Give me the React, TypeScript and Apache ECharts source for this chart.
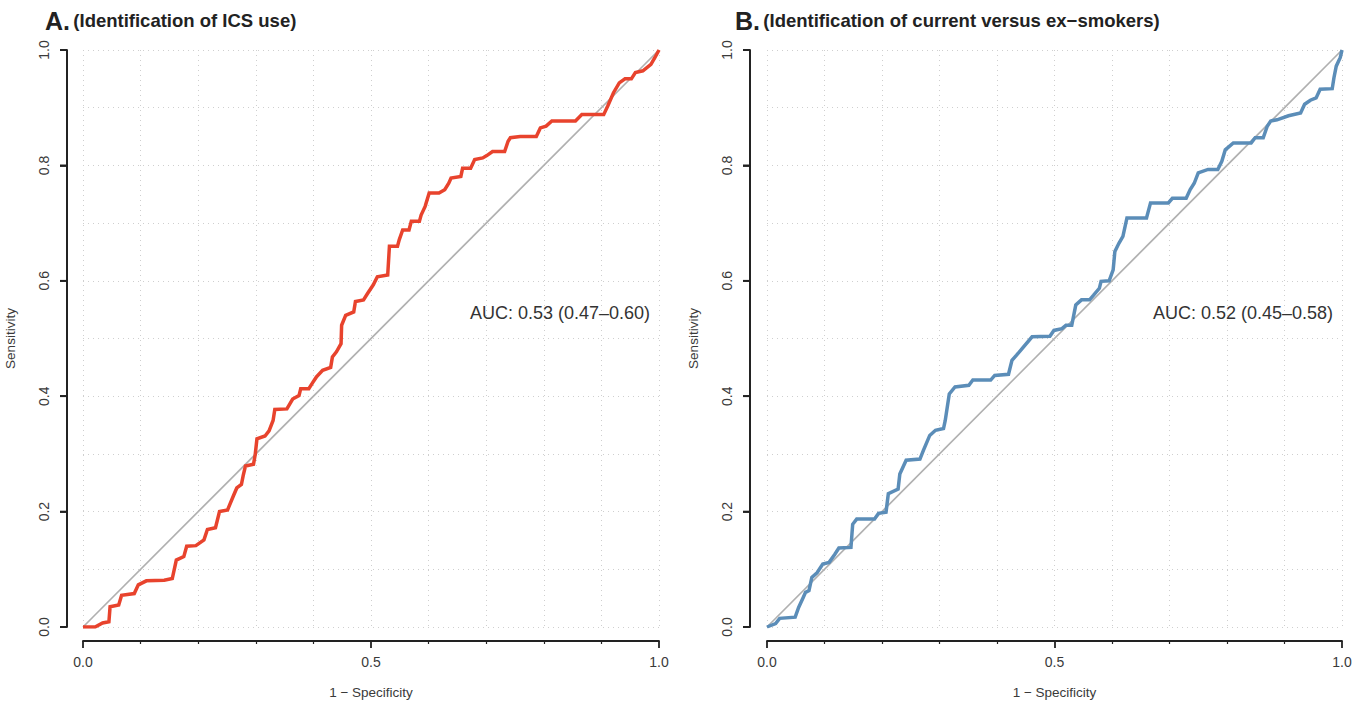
import React, { useEffect, useRef } from "react";
import * as echarts from "echarts";

// 1 - specificity, sensitivity pairs
const rocICS: number[][] = [
  [0, 0], [0.021, 0], [0.034, 0.007], [0.045, 0.009], [0.047, 0.035], [0.062, 0.038], [0.067, 0.055],
  [0.089, 0.058], [0.096, 0.073], [0.11, 0.08], [0.141, 0.081], [0.155, 0.084], [0.162, 0.116],
  [0.175, 0.122], [0.18, 0.14], [0.196, 0.141], [0.21, 0.151], [0.216, 0.169], [0.23, 0.172],
  [0.237, 0.2], [0.251, 0.203], [0.261, 0.227], [0.267, 0.241], [0.275, 0.247], [0.278, 0.262],
  [0.282, 0.279], [0.296, 0.282], [0.299, 0.299], [0.302, 0.326], [0.316, 0.331], [0.323, 0.34],
  [0.33, 0.358], [0.333, 0.377], [0.354, 0.378], [0.364, 0.395], [0.375, 0.401], [0.378, 0.413],
  [0.392, 0.413], [0.399, 0.424], [0.405, 0.433], [0.416, 0.445], [0.43, 0.45], [0.433, 0.468],
  [0.44, 0.477], [0.448, 0.491], [0.449, 0.523], [0.456, 0.54], [0.47, 0.546], [0.473, 0.564],
  [0.487, 0.567], [0.494, 0.578], [0.504, 0.593], [0.511, 0.607], [0.529, 0.61], [0.532, 0.66],
  [0.546, 0.66], [0.549, 0.671], [0.555, 0.688], [0.566, 0.688], [0.57, 0.703], [0.584, 0.703],
  [0.587, 0.714], [0.594, 0.729], [0.601, 0.752], [0.618, 0.752], [0.628, 0.758], [0.635, 0.769],
  [0.639, 0.778], [0.656, 0.781], [0.659, 0.795], [0.673, 0.795], [0.68, 0.81], [0.694, 0.813],
  [0.701, 0.817], [0.711, 0.824], [0.732, 0.824], [0.738, 0.842], [0.742, 0.848], [0.759, 0.85],
  [0.787, 0.85], [0.794, 0.865], [0.804, 0.868], [0.814, 0.877], [0.855, 0.877], [0.866, 0.888],
  [0.904, 0.888], [0.911, 0.903], [0.921, 0.926], [0.931, 0.943], [0.941, 0.95], [0.952, 0.95],
  [0.959, 0.961], [0.972, 0.964], [0.986, 0.975], [0.993, 0.987], [1, 1],
];

const rocSmokers: number[][] = [
  [0, 0], [0.015, 0.006], [0.022, 0.015], [0.049, 0.017], [0.055, 0.034], [0.063, 0.051], [0.067, 0.06],
  [0.073, 0.063], [0.078, 0.086], [0.087, 0.094], [0.097, 0.109], [0.108, 0.112], [0.118, 0.126],
  [0.125, 0.137], [0.146, 0.138], [0.149, 0.178], [0.156, 0.187], [0.187, 0.187], [0.194, 0.197],
  [0.207, 0.199], [0.211, 0.231], [0.228, 0.239], [0.231, 0.265], [0.242, 0.289], [0.266, 0.291],
  [0.272, 0.306], [0.283, 0.332], [0.293, 0.341], [0.307, 0.344], [0.31, 0.358], [0.317, 0.404],
  [0.327, 0.416], [0.351, 0.419], [0.358, 0.428], [0.389, 0.428], [0.396, 0.436], [0.42, 0.438],
  [0.426, 0.462], [0.434, 0.471], [0.444, 0.483], [0.461, 0.503], [0.492, 0.504], [0.499, 0.514],
  [0.513, 0.517], [0.52, 0.523], [0.53, 0.523], [0.537, 0.558], [0.547, 0.567], [0.561, 0.567],
  [0.568, 0.575], [0.578, 0.587], [0.581, 0.599], [0.595, 0.6], [0.602, 0.619], [0.605, 0.651],
  [0.612, 0.665], [0.619, 0.677], [0.626, 0.709], [0.66, 0.709], [0.667, 0.735], [0.698, 0.735],
  [0.705, 0.743], [0.729, 0.743], [0.736, 0.758], [0.743, 0.769], [0.75, 0.787], [0.767, 0.793],
  [0.784, 0.793], [0.791, 0.807], [0.797, 0.827], [0.811, 0.839], [0.842, 0.839], [0.849, 0.848],
  [0.863, 0.848], [0.87, 0.868], [0.876, 0.877], [0.887, 0.879], [0.907, 0.886], [0.928, 0.891],
  [0.935, 0.906], [0.945, 0.913], [0.955, 0.917], [0.962, 0.932], [0.983, 0.933], [0.986, 0.952],
  [0.99, 0.972], [0.997, 0.987], [1, 1],
];

const diagonal: number[][] = [[0, 0], [1, 1]];
const yTickValues = [0, 0.2, 0.4, 0.6, 0.8, 1.0];

const panelLetters = ["A.", "B."];
const panelTitles = ["(Identification of ICS use)", "(Identification of current versus ex\u2212smokers)"];
const aucLabels = ["AUC: 0.53 (0.47\u20130.60)", "AUC: 0.52 (0.45\u20130.58)"];
const xName = "1 \u2212 Specificity";
const yName = "Sensitivity";

const FONT = "'Liberation Sans', Arial, Helvetica, sans-serif";
const AXIS_COLOR = "#222";
const LABEL_COLOR = "#3a3a3a";
const GRID_COLOR = "#cfcfcf";

const gridsLayout = [
  { left: 83, top: 50, width: 576, height: 577 },
  { left: 767, top: 50, width: 575, height: 577 },
];
const yOffsets = [16, 17];
const Y_TICK_LEN = 7;

function xAxisFor(i: number) {
  return {
    gridIndex: i,
    type: "value",
    min: 0,
    max: 1,
    interval: 0.5,
    offset: 14,
    name: xName,
    nameLocation: "middle",
    nameGap: 44,
    nameTextStyle: { fontSize: 13.5, color: LABEL_COLOR, fontFamily: FONT },
    axisLine: { show: true, onZero: false, lineStyle: { color: AXIS_COLOR, width: 1.8 } },
    axisTick: { show: true, length: 7, lineStyle: { color: AXIS_COLOR, width: 1.8 } },
    minorTick: { show: true, splitNumber: 5, length: 3, lineStyle: { color: AXIS_COLOR, width: 1.2 } },
    axisLabel: {
      color: LABEL_COLOR,
      fontSize: 14,
      fontFamily: FONT,
      margin: 14,
      formatter: (v: number) => v.toFixed(1),
    },
    splitLine: { show: true, lineStyle: { type: [1, 4], color: GRID_COLOR, width: 1 } },
    minorSplitLine: { show: true, lineStyle: { type: [1, 4], color: GRID_COLOR, width: 1 } },
  };
}

function yAxisFor(i: number) {
  return {
    gridIndex: i,
    type: "value",
    position: "left",
    min: 0,
    max: 1,
    interval: 0.2,
    offset: yOffsets[i],
    name: yName,
    nameLocation: "middle",
    nameGap: 50,
    nameTextStyle: { fontSize: 13.5, color: LABEL_COLOR, fontFamily: FONT },
    axisLine: { show: true, onZero: false, lineStyle: { color: AXIS_COLOR, width: 1.8 } },
    axisTick: { show: true, length: Y_TICK_LEN, lineStyle: { color: AXIS_COLOR, width: 1.8 } },
    minorTick: { show: false, splitNumber: 2 },
    axisLabel: {
      color: LABEL_COLOR,
      fontSize: 14,
      fontFamily: FONT,
      margin: 16,
      rotate: 90,
      formatter: (v: number) => v.toFixed(1),
    },
    splitLine: { show: true, lineStyle: { type: [1, 4], color: GRID_COLOR, width: 1 } },
    minorSplitLine: { show: true, lineStyle: { type: [1, 4], color: GRID_COLOR, width: 1 } },
  };
}

export default function App() {
  const ref = useRef<HTMLDivElement>(null);

  useEffect(() => {
    document.body.style.margin = "0";
    document.body.style.overflow = "hidden";
    if (!ref.current) return;
    const chart = echarts.init(ref.current, null, { renderer: "svg" });

    const rocSeries = (idx: number, data: number[][], color: string) => ({
      type: "line",
      xAxisIndex: idx,
      yAxisIndex: idx,
      data,
      showSymbol: false,
      symbol: "none",
      silent: true,
      z: 3,
      lineStyle: { color, width: 3.5, join: "miter" },
    });
    const diagSeries = (idx: number) => ({
      type: "line",
      xAxisIndex: idx,
      yAxisIndex: idx,
      data: diagonal,
      showSymbol: false,
      symbol: "none",
      silent: true,
      z: 2,
      lineStyle: { color: "#b0b0b0", width: 1.7 },
    });

    const titleX = [45, 735];
    const aucRight = [650, 1333];

    const baseGraphics: any[] = [
      ...panelLetters.map((letter, i) => ({
        type: "text",
        left: titleX[i],
        top: 8,
        style: {
          text: `{a|${letter}} {b|${panelTitles[i]}}`,
          rich: {
            a: { fontSize: 25, fontWeight: "bold", fill: "#222", fontFamily: FONT },
            b: { fontSize: 18.5, fontWeight: "bold", fill: "#222", fontFamily: FONT },
          },
        },
      })),
      ...aucLabels.map((t, i) => ({
        type: "text",
        x: aucRight[i],
        y: 313,
        style: {
          text: t,
          fontSize: 18,
          fill: "#333",
          fontFamily: FONT,
          textAlign: "right",
          textVerticalAlign: "middle",
        },
      })),
    ];

    chart.setOption({
      animation: false,
      backgroundColor: "#ffffff",
      grid: gridsLayout.map((g) => ({ ...g, containLabel: false })),
      xAxis: [xAxisFor(0), xAxisFor(1)],
      yAxis: [yAxisFor(0), yAxisFor(1)],
      series: [
        diagSeries(0),
        rocSeries(0, rocICS, "#E8432D"),
        diagSeries(1),
        rocSeries(1, rocSmokers, "#5B8DB8"),
      ],
      graphic: baseGraphics,
    });

    // reinforce the offset y-axis lines and ticks, positioned through the axis scales
    const axisMarks: any[] = [];
    [0, 1].forEach((i) => {
      const p0 = chart.convertToPixel({ gridIndex: i }, [0, 0]) as number[];
      const p1 = chart.convertToPixel({ gridIndex: i }, [0, 1]) as number[];
      const x = p0[0] - yOffsets[i];
      axisMarks.push({
        type: "line",
        silent: true,
        shape: { x1: x, y1: p0[1], x2: x, y2: p1[1] },
        style: { stroke: AXIS_COLOR, lineWidth: 1.8 },
      });
      yTickValues.forEach((v) => {
        const p = chart.convertToPixel({ gridIndex: i }, [0, v]) as number[];
        axisMarks.push({
          type: "line",
          silent: true,
          shape: { x1: x - Y_TICK_LEN, y1: p[1], x2: x, y2: p[1] },
          style: { stroke: AXIS_COLOR, lineWidth: 1.8 },
        });
      });
    });
    chart.setOption({ graphic: [...baseGraphics, ...axisMarks] });

    return () => chart.dispose();
  }, []);

  return <div ref={ref} style={{ width: 1369, height: 707 }} />;
}
